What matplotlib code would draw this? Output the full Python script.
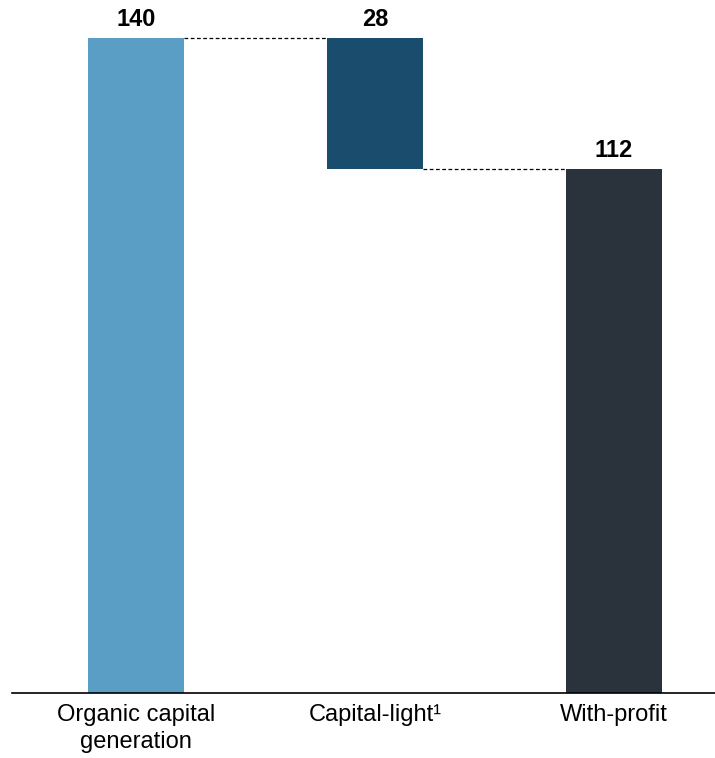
import matplotlib.pyplot as plt

plt.rcParams['font.family'] = ['Liberation Sans', 'DejaVu Sans']

# data
categories = ["Organic capital\ngeneration", "Capital-light\u00b9", "With-profit"]
values = [140, 28, 112]          # 28 is a step down
colors = ["#5A9EC6", "#1A4C6E", "#2A323C"]

# waterfall bottoms / tops
bottoms = [0, values[0] - values[1], 0]
heights = [values[0], values[1], values[2]]
tops = [b + h for b, h in zip(bottoms, heights)]

fig = plt.figure(figsize=(7.15, 7.58), dpi=100)
ax = fig.add_axes([12 / 715, 65 / 758, 703 / 715, (693 - 38) / 758])

x = range(len(categories))
w = 0.40
ax.bar(x, heights, bottom=bottoms, width=w, color=colors, zorder=2)

# connector lines
ax.plot([0 + w / 2, 1 - w / 2], [tops[0], tops[0]], ls=(0, (3, 2)), color="black", lw=0.9, clip_on=False)
ax.plot([1 + w / 2, 2 - w / 2], [bottoms[1], bottoms[1]], ls=(0, (3, 2)), color="black", lw=0.9, clip_on=False)

# value labels
for i, v in enumerate(values):
    ax.annotate(str(v), (i, tops[i]), xytext=(0, 5), textcoords="offset points",
                ha="center", va="bottom", fontsize=17, fontweight="bold", annotation_clip=False)

ax.set_xlim(-0.519, 2.423)
ax.set_ylim(0, 140)
ax.set_xticks(list(x))
ax.set_xticklabels(categories, fontsize=17, linespacing=1.3)
ax.tick_params(axis="x", length=0, pad=8)
ax.set_yticks([])
for s in ["top", "right", "left"]:
    ax.spines[s].set_visible(False)
ax.spines["bottom"].set_linewidth(1.2)

fig.savefig("out.png", dpi=100)
